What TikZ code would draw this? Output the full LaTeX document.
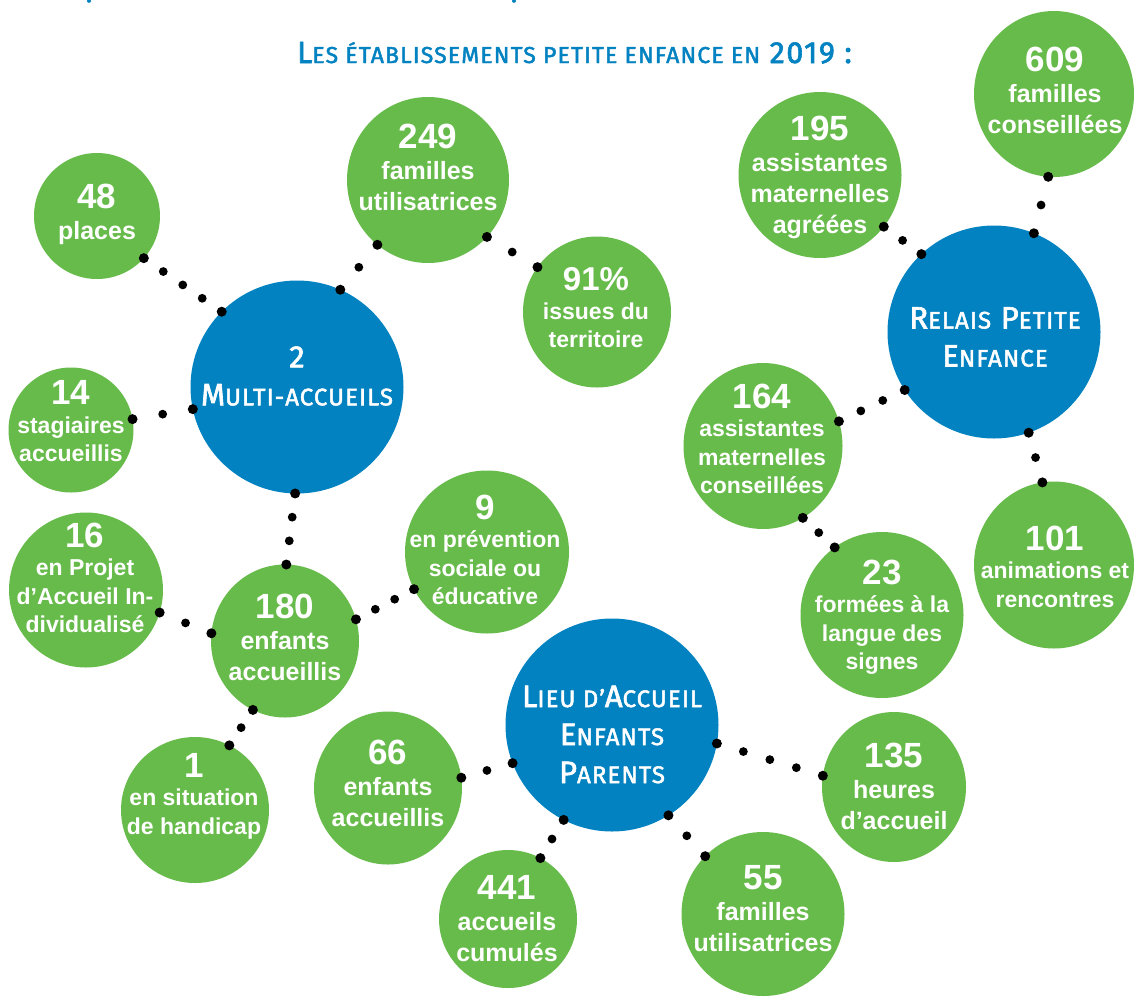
\documentclass[tikz,border=0pt]{standalone}
\usepackage{fontspec}
\setmainfont{Liberation Sans}
\newfontfamily\scfont[LetterSpace=4.5,FakeBold=2]{Fira Sans}
\newfontfamily\titlefont[LetterSpace=5,FakeBold=2]{Fira Sans}
\usetikzlibrary{shapes.geometric,calc}
\definecolor{vert}{RGB}{103,187,74}
\definecolor{bleu}{RGB}{2,130,192}
\newcommand\num[1]{{\fontsize{35}{31}\selectfont #1}}
\newcommand\smc[1]{{\fontsize{24}{38}\selectfont #1}}
\newcommand\tsmc[1]{{\fontsize{23}{30}\selectfont #1}}
\newcommand\dotlink[3]{%
  \foreach \k in {0,...,#3}{%
    \pgfmathsetmacro\pp{\k/#3}%
    \pgfmathsetmacro\rr{(\k==0 || \k==#3) ? 5.0 : 4.4}%
    \fill[black] ($(#1)!\pp!(#2)$) circle[radius=\rr pt];
  }}
\tikzset{
  bubble/.style={ellipse, fill=vert, inner sep=0pt, outer sep=0pt},
  hub/.style={circle, fill=bleu, inner sep=0pt, outer sep=0pt, minimum size=213pt},
  txt/.style={text=white, align=center, inner sep=0pt, font={\fontsize{25}{31}\selectfont\bfseries}},
  txts/.style={text=white, align=center, inner sep=0pt, font={\fontsize{23}{28.5}\selectfont\bfseries}},
  hubtxt/.style={text=white, align=center, inner sep=0pt, font={\scfont\fontsize{31}{38}\selectfont}},
  titletxt/.style={text=bleu, inner sep=0pt, anchor=base, font={\titlefont\fontsize{30.5}{36}\selectfont}},
}
\begin{document}
\begin{tikzpicture}[x=1pt,y=-1pt]
\useasboundingbox (0,0) rectangle (1134,996);
% tiny cut-off marks at the top
\fill[bleu] (89,1) ellipse[x radius=2pt, y radius=1.8pt];
\fill[bleu] (514,1) ellipse[x radius=2pt, y radius=1.8pt];
% title
\node[titletxt] (title) at (574.5,63) {L\tsmc{ES ÉTABLISSEMENTS PETITE ENFANCE EN} 2019 :};
% hubs
\node[hub] (cMA) at (297,387) {};
\node[hub] (cLA) at (612,725) {};
\node[hub] (cRP) at (994,332) {};
% bubbles
\node[bubble, minimum width=126pt, minimum height=126pt] (c48) at (97,216) {};
\node[bubble, minimum width=125pt, minimum height=125pt] (c14) at (71,430) {};
\node[bubble, minimum width=162pt, minimum height=166pt] (c249) at (428,180) {};
\node[bubble, minimum width=148pt, minimum height=151pt] (c91) at (597,312) {};
\node[bubble, minimum width=154pt, minimum height=155pt] (c16) at (86,590) {};
\node[bubble, minimum width=148pt, minimum height=153pt] (c180) at (285,641) {};
\node[bubble, minimum width=164pt, minimum height=163pt] (c9) at (487,552) {};
\node[bubble, minimum width=148pt, minimum height=146pt] (c1) at (195,810) {};
\node[bubble, minimum width=148pt, minimum height=153pt] (c66) at (388,788) {};
\node[bubble, minimum width=144pt, minimum height=150pt] (c135) at (894,787) {};
\node[bubble, minimum width=138pt, minimum height=138pt] (c441) at (508,919) {};
\node[bubble, minimum width=163pt, minimum height=164pt] (c55) at (763,914) {};
\node[bubble, minimum width=163pt, minimum height=166pt] (c195) at (820,175) {};
\node[bubble, minimum width=160pt, minimum height=166pt] (c609) at (1054,94) {};
\node[bubble, minimum width=159pt, minimum height=166pt] (c164) at (763,446) {};
\node[bubble, minimum width=163pt, minimum height=166pt] (c23) at (882,615) {};
\node[bubble, minimum width=160pt, minimum height=167pt] (c101) at (1054,565) {};
% hub texts
\node[hubtxt] (tMA) at (297,376) {2\\M\smc{ULTI-ACCUEILS}};
\node[hubtxt] (tLA) at (612,734.5) {L\smc{IEU D’}A\smc{CCUEIL}\\E\smc{NFANTS}\\P\smc{ARENTS}};
\node[hubtxt] (tRP) at (995,337) {R\smc{ELAIS} P\smc{ETITE}\\E\smc{NFANCE}};
% bubble texts
\node[txt] (t48) at (97,214) {\num{48}\\places};
\node[txts] (t14) at (71,421.5) {\num{14}\\stagiaires\\accueillis};
\node[txt] (t249) at (428,167.5) {\num{249}\\familles\\utilisatrices};
\node[txts] (t91) at (596,308) {{\fontsize{33}{28}\selectfont 91\%}\\issues du\\territoire};
\node[txts] (t16) at (85,578) {\num{16}\\en Projet\\d’Accueil In-\\dividualisé};
\node[txt] (t180) at (285,637.5) {\num{180}\\enfants\\accueillis};
\node[txts] (t9) at (485,550) {\num{9}\\en prévention\\sociale ou\\éducative};
\node[txts] (t1) at (194,796) {\num{1}\\en situation\\de handicap};
\node[txt] (t66) at (388,783) {\num{66}\\enfants\\accueillis};
\node[txt] (t135) at (894,786) {\num{135}\\heures\\d’accueil};
\node[txt] (t441) at (507,919) {\num{441}\\accueils\\cumulés};
\node[txt] (t55) at (763,909) {\num{55}\\familles\\utilisatrices};
\node[txt] (t195) at (820,177.5) {\num{195}\\assistantes\\maternelles\\agréées};
\node[txt] (t609) at (1055,90) {\num{609}\\familles\\conseillées};
\node[txts] (t164) at (762,439) {\num{164}\\assistantes\\maternelles\\conseillées};
\node[txts] (t23) at (882,617) {\num{23}\\formées à la\\langue des\\signes};
\node[txts] (t101) at (1055,566.5) {\num{101}\\animations et\\rencontres};
% dotted connectors
\dotlink{c48.-42}{cMA.135}{4}
\dotlink{c249.-128}{cMA.66}{2}
\dotlink{c249.-44}{c91.143}{2}
\dotlink{c14.10}{cMA.-168}{2}
\dotlink{cMA.-91}{c180.89}{3}
\dotlink{c16.-17}{c180.174}{2}
\dotlink{c180.17}{c9.-153}{3}
\dotlink{c180.-115}{c1.62}{2}
\dotlink{c66.8}{cLA.-159}{2}
\dotlink{cLA.-117}{c441.62}{2}
\dotlink{cLA.-58}{c55.135}{2}
\dotlink{cLA.-10}{c135.171}{4}
\dotlink{c609.-94}{cRP.68}{2}
\dotlink{c195.-39}{cRP.133}{2}
\dotlink{c164.18}{cRP.-147}{3}
\dotlink{cRP.-71}{c101.98}{2}
\dotlink{c164.-61}{c23.125}{2}
\end{tikzpicture}
\end{document}
